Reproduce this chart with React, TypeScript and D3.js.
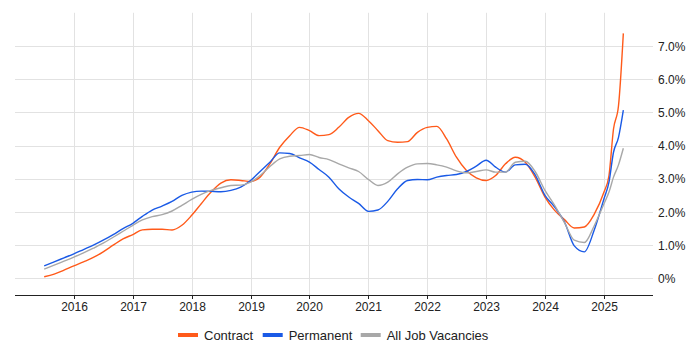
import React from "react";
import * as d3 from "d3";

const dates: string[] = [
  "2015-07","2015-09","2015-11",
  "2016-01","2016-03","2016-05","2016-07","2016-09","2016-11",
  "2017-01","2017-03","2017-05","2017-07","2017-09","2017-11",
  "2018-01","2018-03","2018-05","2018-07","2018-09","2018-11",
  "2019-01","2019-03","2019-05","2019-07","2019-09","2019-11",
  "2020-01","2020-03","2020-05","2020-07","2020-09","2020-11",
  "2021-01","2021-03","2021-05","2021-07","2021-09","2021-11",
  "2022-01","2022-03","2022-05","2022-07","2022-09","2022-11",
  "2023-01","2023-03","2023-05","2023-07","2023-09","2023-11",
  "2024-01","2024-03","2024-05","2024-07","2024-09","2024-11",
  "2025-01","2025-02","2025-03","2025-04","2025-05",
];

const contract: number[] = [
  0.05, 0.13, 0.25,
  0.38, 0.5, 0.63, 0.8, 1.0, 1.19,
  1.32, 1.46, 1.48, 1.48, 1.46, 1.6,
  1.9, 2.25, 2.6, 2.87, 2.97, 2.95,
  2.92, 3.05, 3.45, 3.95, 4.3, 4.55,
  4.45, 4.3, 4.33, 4.55, 4.85, 4.97,
  4.75, 4.45, 4.15, 4.1, 4.12, 4.4,
  4.55, 4.58, 4.2, 3.65, 3.25, 3.03,
  2.95, 3.1, 3.45, 3.65, 3.5, 3.05,
  2.45, 2.05, 1.77, 1.52, 1.55, 1.93,
  2.6, 3.1, 4.5, 5.2, 7.38,
];

const permanent: number[] = [
  0.38, 0.5, 0.62,
  0.74, 0.87, 1.0, 1.15, 1.32, 1.5,
  1.66, 1.87, 2.06, 2.18, 2.32, 2.5,
  2.6, 2.63, 2.62, 2.61, 2.65, 2.75,
  2.95, 3.22, 3.5, 3.78, 3.76, 3.63,
  3.5, 3.28, 3.05, 2.7, 2.45, 2.26,
  2.02, 2.06, 2.32, 2.7, 2.95, 2.98,
  2.97, 3.05, 3.1, 3.13, 3.22, 3.38,
  3.56, 3.35, 3.2, 3.42, 3.44, 3.12,
  2.5, 2.15, 1.7, 0.98, 0.8, 1.45,
  2.4, 2.9, 3.8, 4.25, 5.07,
];

const allJobs: number[] = [
  0.28, 0.4, 0.52,
  0.64, 0.77, 0.91, 1.06, 1.24, 1.42,
  1.6, 1.76, 1.86, 1.92, 2.03, 2.2,
  2.38, 2.53, 2.65, 2.73, 2.8, 2.81,
  2.9, 3.1, 3.37, 3.6, 3.68, 3.7,
  3.73, 3.64, 3.58, 3.45, 3.33, 3.22,
  2.98, 2.8, 2.9, 3.15, 3.35, 3.45,
  3.46, 3.42, 3.35, 3.24, 3.18, 3.22,
  3.27, 3.2, 3.2, 3.5, 3.53, 3.22,
  2.65, 2.2, 1.68, 1.15, 1.08, 1.58,
  2.25, 2.6, 3.05, 3.42, 3.92,
];

const yTicks: number[] = [0, 1, 2, 3, 4, 5, 6, 7];
const xTickYears: number[] = [2016, 2017, 2018, 2019, 2020, 2021, 2022, 2023, 2024, 2025];

const seriesNames = ["Contract", "Permanent", "All Job Vacancies"];
const seriesColors = ["#ff5a1a", "#1a5ae6", "#a8a8a8"];

const W = 700;
const H = 350;
const left = 15;
const right = 653;
const top = 12.8;
const bottom = 295;
const FONT = "'Liberation Sans', Arial, sans-serif";

export default function App() {
  const parse = d3.timeParse("%Y-%m");
  const ds = dates.map((d) => parse(d) as Date);
  const x = d3
    .scaleTime()
    .domain([new Date(2015, 0, 1), new Date(2025, 10, 1)])
    .range([left, right]);
  const y = d3.scaleLinear().domain([-0.5, 8]).range([bottom, top]);

  const line = d3
    .line<number>()
    .x((_, i) => x(ds[i]))
    .y((v) => y(v))
    .curve(d3.curveMonotoneX);

  const allSeries = [contract, permanent, allJobs];

  // legend layout
  const legendFont = 13;
  const legendY = 335;
  const itemWidths = [84.7, 98, 130];
  let lx = 178;
  const legendItems = seriesNames.map((n, i) => {
    const item = { name: n, color: seriesColors[i], x: lx };
    lx += itemWidths[i];
    return item;
  });

  return (
    <svg
      width={W}
      height={H}
      style={{ position: "absolute", left: 0, top: 0, background: "#fff" }}
      fontFamily={FONT}
    >
      {yTicks.map((t) => (
        <line
          key={"gy" + t}
          x1={left}
          x2={right}
          y1={Math.round(y(t)) + 0.5}
          y2={Math.round(y(t)) + 0.5}
          stroke="#e2e2e2"
          strokeWidth={1}
        />
      ))}
      {xTickYears.map((yr) => {
        const px = Math.round(x(new Date(yr, 0, 1))) + 0.5;
        return (
          <line
            key={"gx" + yr}
            x1={px}
            x2={px}
            y1={top}
            y2={bottom}
            stroke="#e2e2e2"
            strokeWidth={1}
          />
        );
      })}
      {allSeries.map((s, i) => (
        <path
          key={"s" + i}
          d={line(s) || ""}
          fill="none"
          stroke={seriesColors[i]}
          strokeWidth={1.4}
          strokeLinejoin="round"
        />
      ))}
      <line x1={left} x2={right} y1={bottom + 0.5} y2={bottom + 0.5} stroke="#222" strokeWidth={1} />
      {xTickYears.map((yr) => {
        const px = Math.round(x(new Date(yr, 0, 1))) + 0.5;
        return (
          <g key={"xt" + yr}>
            <line x1={px} x2={px} y1={bottom} y2={bottom + 4} stroke="#222" strokeWidth={1} />
            <text x={px} y={bottom + 16} textAnchor="middle" fontSize={12} fill="#222">
              {yr}
            </text>
          </g>
        );
      })}
      {yTicks.map((t) => (
        <text
          key={"yl" + t}
          x={658}
          y={y(t) + 4.5}
          fontSize={12}
          fill="#222"
          textAnchor="start"
        >
          {t === 0 ? "0%" : d3.format(".1f")(t) + "%"}
        </text>
      ))}
      {legendItems.map((it) => (
        <g key={it.name}>
          <rect x={it.x} y={legendY - 2} width={20} height={4} fill={it.color} />
          <text x={it.x + 26} y={legendY + 4.5} fontSize={legendFont} fill="#222">
            {it.name}
          </text>
        </g>
      ))}
    </svg>
  );
}
